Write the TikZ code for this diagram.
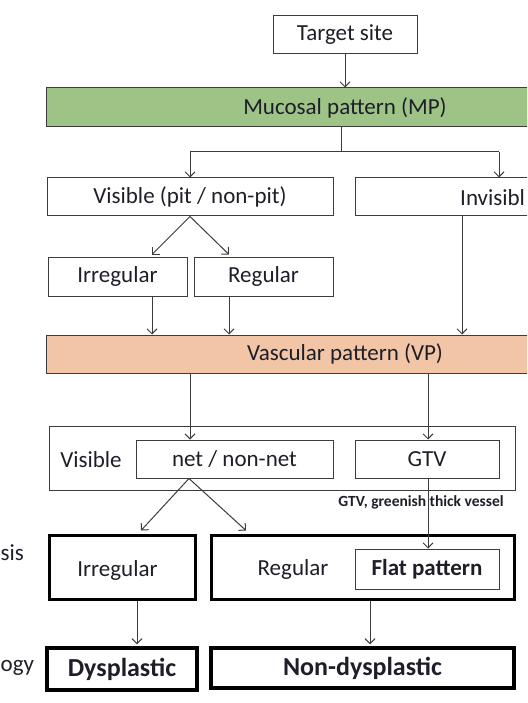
\documentclass[tikz,border=0pt]{standalone}
\usepackage{fontspec}
\setmainfont{Carlito}
\usetikzlibrary{arrows.meta,calc}
\definecolor{mpgreen}{HTML}{9EC387}
\definecolor{vpsalmon}{HTML}{F1C5A5}
\definecolor{txt}{HTML}{1E1E28}
\definecolor{ln}{HTML}{3C3C3C}
\tikzset{
  thinbox/.style={draw=ln, line width=1pt, rectangle, inner sep=0pt, text=txt, font=\fontsize{23}{27}\selectfont},
  thickbox/.style={draw=black, line width=3pt, rectangle, inner sep=0pt, text=txt, font=\fontsize{23}{27}\selectfont},
  lbl/.style={inner sep=0pt, text=txt, font=\fontsize{23}{27}\selectfont},
  conn/.style={draw=ln, line width=1pt},
  arr/.style={conn, -{Straight Barb[length=5pt,width=10pt,line width=1pt]}}
}
\begin{document}
\begin{tikzpicture}[x=1pt,y=-1pt]
\useasboundingbox (0,0) rectangle (527,703);
\clip (0,0) rectangle (527,703);
% top
\node[thinbox, minimum width=144pt, minimum height=38pt] (target) at (345,35) {Target site};
\node[thinbox, fill=mpgreen, minimum width=598pt, minimum height=39pt] (mp) at (345,107.5) {};
\node[lbl] (mptext) at (345,107.5) {Mucosal pattern (MP)};
\node[thinbox, minimum width=286pt, minimum height=38pt] (vis1) at (190,197) {Visible (pit / non-pit)};
\node[thinbox, minimum width=288pt, minimum height=38pt] (invis) at (499,197) {};
\node[lbl, anchor=west] (invistext) at (460,197.5) {Invisibl};
\node[thinbox, minimum width=139pt, minimum height=39pt] (irr1) at (117.5,276.5) {Irregular};
\node[thinbox, minimum width=139pt, minimum height=39pt] (reg1) at (263.5,276.5) {Regular};
\node[thinbox, fill=vpsalmon, minimum width=598pt, minimum height=38pt] (vp) at (345,354) {};
\node[lbl] (vptext) at (345,354) {Vascular pattern (VP)};
% vascular row
\node[thinbox, minimum width=466pt, minimum height=64pt] (outer) at (282,458) {};
\node[lbl] (vis2) at (91,460) {Visible};
\node[thinbox, minimum width=197pt, minimum height=38pt] (net) at (234.5,459) {net / non-net};
\node[thinbox, minimum width=144pt, minimum height=38pt] (gtv) at (427,459) {GTV};
\node[inner sep=0pt, text=txt, font=\bfseries\fontsize{15.5}{18}\selectfont] (gtvlbl) at (421,502.5) {GTV, greenish thick vessel};
% diagnosis row
\node[thickbox, minimum width=146pt, minimum height=64pt] (irr2) at (122,567) {};
\node[lbl] (irr2text) at (117.5,570) {Irregular};
\node[thickbox, minimum width=303pt, minimum height=64pt] (reg2) at (362.5,567) {};
\node[lbl] (reg2text) at (293,569) {Regular};
\node[thinbox, minimum width=144pt, minimum height=40pt, font=\bfseries\fontsize{23}{27}\selectfont] (flat) at (427,569) {Flat pattern};
% histology row
\node[thickbox, line width=3.5pt, minimum width=150pt, minimum height=42pt, font=\bfseries\fontsize{26}{30}\selectfont] (dys) at (122,669) {Dysplastic};
\node[thickbox, line width=3.5pt, minimum width=303pt, minimum height=40pt, font=\bfseries\fontsize{26}{30}\selectfont] (nondys) at (362.5,668) {Non-dysplastic};
% left partial labels
\node[lbl, anchor=west] (diag) at (0.5,553) {sis};
\node[lbl, anchor=west] (histo) at (0.5,668) {ogy};
% connectors
\draw[arr] (target.south) -- (mp.north);
\coordinate (split) at (341,152);
\draw[conn] (341,0 |- mp.south) -- (split);
\draw[conn] (190,152) -- (499,152);
\draw[arr] (190,152) -- (vis1.north);
\draw[arr] (499,152) -- (invis.north);
\draw[arr] (vis1.south) -- ($(152,0 |- irr1.north)+(0,-2)$);
\draw[arr] (vis1.south) -- ($(229,0 |- reg1.north)+(0,-2)$);
\draw[arr] (152,0 |- irr1.south) -- (152,0 |- vp.north);
\draw[arr] (229,0 |- reg1.south) -- (229,0 |- vp.north);
\draw[arr] (462,0 |- invis.south) -- (462,0 |- vp.north);
\draw[arr] (190,0 |- vp.south) -- (190,0 |- net.north);
\draw[arr] (428,0 |- vp.south) -- (428,0 |- gtv.north);
\draw[arr] (189,0 |- net.south) -- ($(141,0 |- irr2.north)+(0,-3)$);
\draw[arr] (189,0 |- net.south) -- ($(246,0 |- reg2.north)+(0,-3)$);
\draw[arr] (428,0 |- gtv.south) -- (428,0 |- flat.north);
\draw[arr] (137,0 |- irr2.south) -- ($(137,0 |- dys.north)+(0,-2)$);
\draw[arr] (370,0 |- reg2.south) -- ($(370,0 |- nondys.north)+(0,-2)$);
\end{tikzpicture}
\end{document}
